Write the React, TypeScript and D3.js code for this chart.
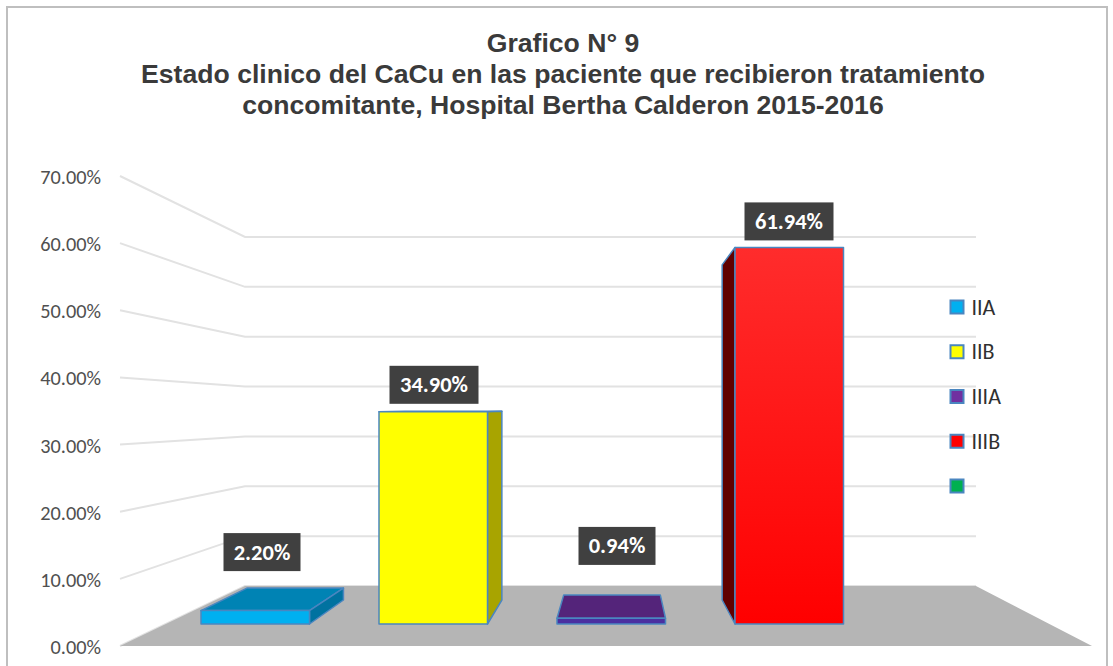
import React from "react";
import * as d3 from "d3";

const categories = ["IIA", "IIB", "IIIA", "IIIB"];
const values = [2.2, 34.9, 0.94, 61.94];
const valueLabels = ["2.20%", "34.90%", "0.94%", "61.94%"];
const ticks = [0, 10, 20, 30, 40, 50, 60, 70];
const legendLabels = ["IIA", "IIB", "IIIA", "IIIB", ""];
const legendColors = ["#00B0F0", "#FFFF00", "#7030A0", "#FF0000", "#00B050"];
const titleLines = [
  "Grafico N° 9",
  "Estado clinico del CaCu en las paciente que recibieron tratamiento",
  "concomitante, Hospital Bertha Calderon 2015-2016",
];

const W = 1113;
const H = 666;

const yWall = d3.scaleLinear().domain([0, 70]).range([646, 176]);
const yBackWall = d3.scaleLinear().domain([0, 70]).range([586, 237]);
const yFront = d3.scaleLinear().domain([0, 100]).range([624, 16]);
const yBack = d3.scaleLinear().domain([0, 100]).range([600, 59]);
const xPoint = d3.scalePoint<string>().domain(categories).range([201, 735]);
const barWidth = 108.5;
const xBack = d3.scaleLinear().domain([0, 1000]).range([68, 958]);

const barStyles = [
  { front: "#00B0F0", top: "#0083B4", side: "#0072A0" },
  { front: "#FFFF00", top: "#FFFF00", side: "#A8A400" },
  { front: "#4A2FA0", top: "#54247A", side: "#54247A" },
  { front: "url(#redFade)", top: "#FF2A2A", side: "#600000" },
];
const labelOffsets = [-36, -27, -49, -26];
const labelCentres = [262, 434, 617, 789];
const stroke = "#4A86C0";

const pts = (p: number[][]) => p.map((q) => q.join(",")).join(" ");

function Bar({ i }: { i: number }) {
  const c = categories[i];
  const v = values[i];
  const x0 = xPoint(c)!;
  const x1 = x0 + barWidth;
  const bx0 = xBack(x0);
  const bx1 = xBack(x1);
  const yf = yFront(v);
  const yb = yBack(v);
  const s = barStyles[i];
  const common = { stroke, strokeWidth: 1.5, strokeLinejoin: "round" as const };
  return (
    <g>
      {yf - yb > 0 ? (
        <polygon points={pts([[x0, yf], [x1, yf], [bx1, yb], [bx0, yb]])} fill={s.top} {...common} />
      ) : null}
      {bx1 > x1 ? (
        <polygon points={pts([[x1, yf], [bx1, yb], [bx1, yBack(0)], [x1, yFront(0)]])} fill={s.side} {...common} />
      ) : null}
      {bx0 < x0 ? (
        <polygon points={pts([[x0, yf], [bx0, yb], [bx0, yBack(0)], [x0, yFront(0)]])} fill={s.side} {...common} />
      ) : null}
      <rect x={x0} y={yf} width={x1 - x0} height={yFront(0) - yf} fill={s.front} {...common} />
    </g>
  );
}

export default function App() {
  const floorTop = yBackWall(0);
  const floorBottom = yWall(0);
  return (
    <svg
      width={W}
      height={H}
      viewBox={`0 0 ${W} ${H}`}
      style={{ position: "absolute", left: 0, top: 0, background: "#fff" }}
    >
      <defs>
        <linearGradient id="redFade" x1="0" y1="0" x2="0" y2="1">
          <stop offset="0" stopColor="#FF2C2C" />
          <stop offset="1" stopColor="#FF0000" />
        </linearGradient>
      </defs>
      <rect x={7} y={7} width={1100} height={680} fill="#fff" stroke="#BFBFBF" strokeWidth={2} />

      {titleLines.map((t, i) => (
        <text
          key={i}
          x={563}
          y={52 + i * 31}
          textAnchor="middle"
          fontFamily="'Liberation Sans', Arial, sans-serif"
          fontWeight="bold"
          fontSize={26.6}
          fill="#3A3A3A"
        >
          {t}
        </text>
      ))}

      {ticks.map((t) => (
        <g key={t}>
          <polyline
            points={pts([[120, yWall(t)], [245, yBackWall(t)], [976, yBackWall(t)]])}
            fill="none"
            stroke="#E2E2E2"
            strokeWidth={2}
          />
          <text
            x={101}
            y={yWall(t) + 8}
            textAnchor="end"
            fontFamily="Carlito, 'Open Sans', sans-serif"
            fontSize={20.3}
            fill="#505050"
          >
            {t.toFixed(2)}%
          </text>
        </g>
      ))}

      <polygon
        points={pts([[120, floorBottom], [245, floorTop], [976, floorTop], [1092, floorBottom]])}
        fill="#B5B5B5"
      />

      {[3, 2, 1, 0].map((i) => (
        <Bar key={i} i={i} />
      ))}

      {valueLabels.map((l, i) => {
        const v = values[i];
        const w = l.length > 5 ? 89 : 77;
        const refY = v < 10 ? yBack(v) : yFront(v);
        const cy = refY + labelOffsets[i];
        return (
          <g key={l}>
            <rect x={labelCentres[i] - w / 2} y={cy - 19} width={w} height={38} fill="#404040" />
            <text
              x={labelCentres[i]}
              y={cy + 7.5}
              textAnchor="middle"
              fontFamily="Carlito, 'Open Sans', sans-serif"
              fontWeight="bold"
              fontSize={22.5}
              fill="#fff"
            >
              {l}
            </text>
          </g>
        );
      })}

      {legendLabels.map((l, i) => {
        const cy = 307 + i * 44.75;
        return (
          <g key={i}>
            <rect x={950.5} y={cy - 6.5} width={13} height={13} fill={legendColors[i]} stroke={stroke} strokeWidth={2} />
            <text
              x={971.5}
              y={cy + 7.5}
              fontFamily="Carlito, 'Open Sans', sans-serif"
              fontSize={22}
              fill="#303030"
            >
              {l}
            </text>
          </g>
        );
      })}
    </svg>
  );
}
